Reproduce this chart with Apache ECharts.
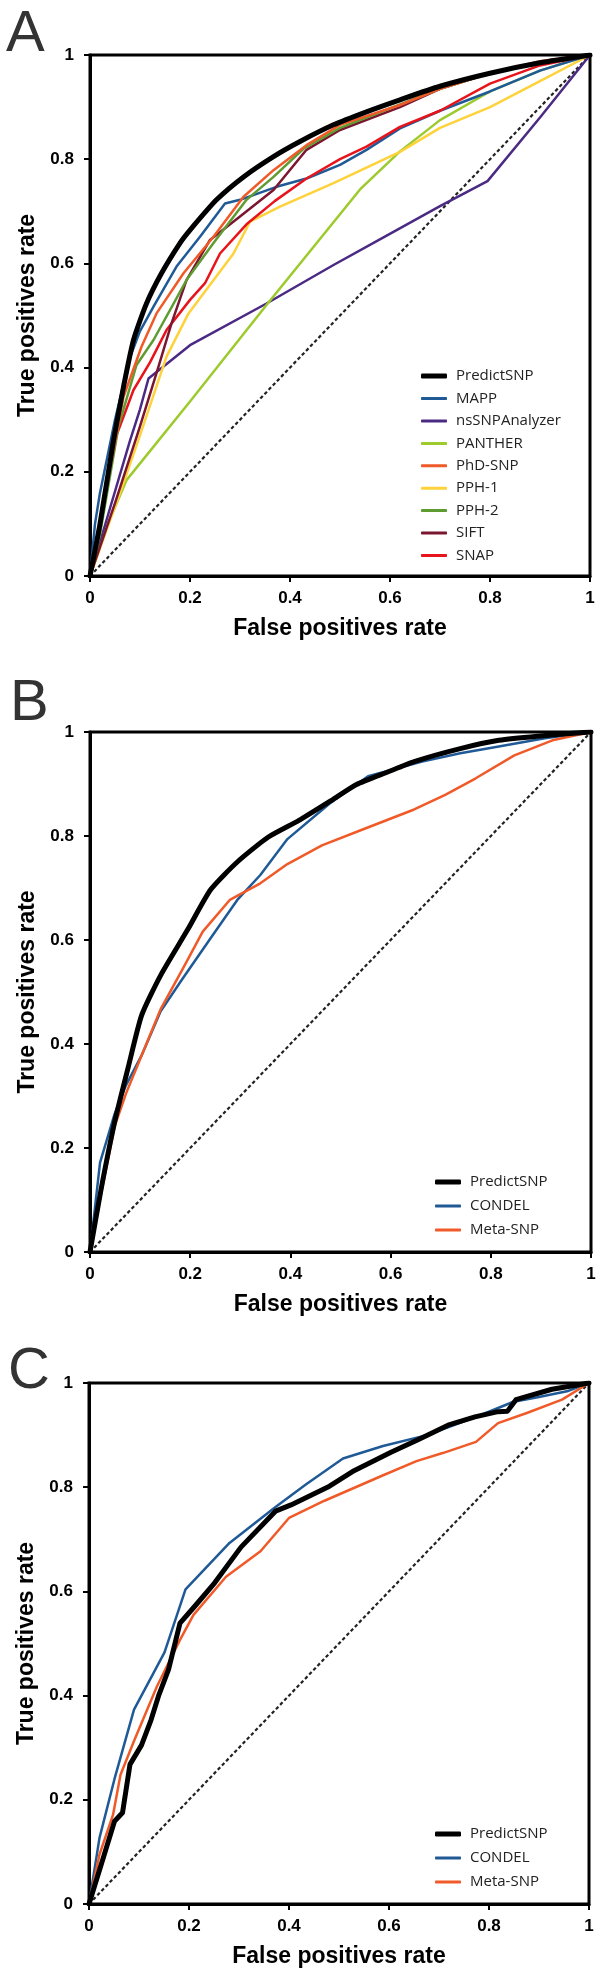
<!DOCTYPE html>
<html>
<head>
<meta charset="utf-8">
<script src="https://cdn.jsdelivr.net/npm/echarts@6/dist/echarts.min.js"></script>
<style>
html,body{margin:0;padding:0;background:#fff;}
#chart{width:601px;height:1976px;}
</style>
</head>
<body>
<div id="chart"></div>
<script>
// ---------- Data ----------
const xTicks = [0, 0.2, 0.4, 0.6, 0.8, 1];
const diagonal = [[0, 0], [1, 1]];

// Panel A
const A_PredictSNP = [[0,0],[0.02,0.1],[0.047,0.26],[0.067,0.363],[0.087,0.453],[0.113,0.523],[0.143,0.581],[0.18,0.639],[0.2,0.664],[0.253,0.722],[0.307,0.766],[0.367,0.805],[0.42,0.834],[0.487,0.866],[0.553,0.891],[0.62,0.914],[0.7,0.94],[0.8,0.965],[0.9,0.985],[1,1]];
const A_MAPP = [[0,0],[0.01,0.1],[0.02,0.16],[0.05,0.3],[0.08,0.42],[0.1,0.47],[0.127,0.517],[0.173,0.594],[0.22,0.651],[0.27,0.715],[0.3,0.722],[0.373,0.747],[0.433,0.763],[0.5,0.789],[0.553,0.818],[0.62,0.859],[0.7,0.893],[0.8,0.93],[0.9,0.97],[1,1]];
const A_nsSNPAnalyzer = [[0,0],[0.04,0.13],[0.08,0.26],[0.1,0.32],[0.117,0.379],[0.2,0.443],[0.353,0.523],[0.487,0.597],[0.587,0.65],[0.7,0.71],[0.795,0.758],[0.9,0.88],[1,1]];
const A_PANTHER = [[0,0],[0.04,0.11],[0.073,0.184],[0.2,0.335],[0.353,0.52],[0.54,0.742],[0.62,0.815],[0.7,0.875],[0.8,0.93],[0.9,0.97],[1,1]];
const A_PhDSNP = [[0,0],[0.02,0.1],[0.045,0.23],[0.067,0.344],[0.103,0.44],[0.133,0.504],[0.187,0.581],[0.247,0.651],[0.307,0.728],[0.367,0.779],[0.433,0.827],[0.5,0.866],[0.62,0.904],[0.7,0.935],[0.8,0.965],[0.9,0.988],[1,1]];
const A_PPH1 = [[0,0],[0.03,0.08],[0.06,0.159],[0.1,0.27],[0.153,0.421],[0.197,0.504],[0.287,0.619],[0.32,0.68],[0.38,0.709],[0.487,0.754],[0.62,0.814],[0.7,0.86],[0.8,0.9],[0.9,0.95],[1,1]];
const A_PPH2 = [[0,0],[0.02,0.08],[0.057,0.287],[0.093,0.405],[0.127,0.453],[0.193,0.568],[0.247,0.639],[0.313,0.722],[0.367,0.766],[0.427,0.82],[0.5,0.86],[0.62,0.905],[0.7,0.935],[0.8,0.965],[0.9,0.985],[1,1]];
const A_SIFT = [[0,0],[0.05,0.14],[0.1,0.287],[0.137,0.402],[0.163,0.485],[0.193,0.568],[0.24,0.645],[0.3,0.69],[0.367,0.741],[0.433,0.818],[0.5,0.856],[0.62,0.9],[0.7,0.935],[0.8,0.965],[0.9,0.985],[1,1]];
const A_SNAP = [[0,0],[0.03,0.15],[0.053,0.27],[0.087,0.357],[0.12,0.41],[0.153,0.472],[0.2,0.53],[0.23,0.562],[0.26,0.619],[0.313,0.675],[0.37,0.72],[0.433,0.763],[0.5,0.8],[0.553,0.824],[0.62,0.862],[0.7,0.893],[0.8,0.945],[0.9,0.98],[1,1]];

// Panel B
const B_PredictSNP = [[0,0],[0.022,0.12],[0.049,0.249],[0.076,0.354],[0.103,0.455],[0.141,0.532],[0.195,0.62],[0.241,0.697],[0.294,0.75],[0.356,0.798],[0.417,0.83],[0.486,0.871],[0.532,0.899],[0.594,0.923],[0.647,0.943],[0.739,0.968],[0.816,0.984],[0.893,0.992],[1,1]];
const B_CONDEL = [[0,0],[0.02,0.172],[0.049,0.265],[0.072,0.321],[0.103,0.378],[0.141,0.463],[0.183,0.523],[0.241,0.604],[0.294,0.677],[0.34,0.725],[0.394,0.794],[0.479,0.863],[0.555,0.915],[0.663,0.943],[0.739,0.959],[0.816,0.972],[0.908,0.988],[1,1]];
const B_MetaSNP = [[0,0],[0.022,0.111],[0.049,0.241],[0.072,0.305],[0.103,0.378],[0.141,0.467],[0.187,0.548],[0.225,0.616],[0.279,0.677],[0.34,0.709],[0.394,0.746],[0.463,0.782],[0.548,0.814],[0.647,0.851],[0.709,0.879],[0.77,0.911],[0.847,0.955],[0.923,0.984],[1,1]];

// Panel C
const C_PredictSNP = [[0,0],[0.028,0.087],[0.051,0.159],[0.067,0.175],[0.082,0.268],[0.105,0.305],[0.124,0.353],[0.14,0.402],[0.159,0.45],[0.182,0.539],[0.212,0.572],[0.251,0.616],[0.304,0.685],[0.373,0.754],[0.404,0.766],[0.481,0.802],[0.527,0.83],[0.604,0.867],[0.658,0.891],[0.718,0.919],[0.772,0.935],[0.818,0.945],[0.837,0.946],[0.854,0.968],[0.926,0.988],[1,1]];
const C_CONDEL = [[0,0],[0.021,0.127],[0.051,0.24],[0.09,0.373],[0.151,0.483],[0.193,0.604],[0.281,0.693],[0.373,0.762],[0.435,0.806],[0.508,0.855],[0.588,0.879],[0.672,0.899],[0.718,0.915],[0.785,0.939],[0.849,0.964],[0.895,0.972],[0.956,0.984],[1,1]];
const C_MetaSNP = [[0,0],[0.021,0.095],[0.048,0.171],[0.063,0.248],[0.09,0.313],[0.136,0.418],[0.182,0.507],[0.209,0.555],[0.274,0.628],[0.343,0.677],[0.4,0.741],[0.471,0.774],[0.586,0.822],[0.655,0.85],[0.709,0.866],[0.774,0.887],[0.818,0.923],[0.877,0.943],[0.946,0.968],[1,1]];

const legendA = ['PredictSNP','MAPP','nsSNPAnalyzer','PANTHER','PhD-SNP','PPH-1','PPH-2','SIFT','SNAP'];
const legendBC = ['PredictSNP','CONDEL','Meta-SNP'];
const panelLetters = ['A','B','C'];

// ---------- Styles ----------
const colors = {
  'PredictSNP':'#000000','MAPP':'#1f5a96','nsSNPAnalyzer':'#4b2a84','PANTHER':'#9dca2c',
  'PhD-SNP':'#f05a28','PPH-1':'#fdd23a','PPH-2':'#5e9c32','SIFT':'#7a1630','SNAP':'#e8141c',
  'CONDEL':'#1f5a96','Meta-SNP':'#f05a28'
};
const grids = [
  {left:90, top:55, width:500, height:521},
  {left:90, top:732, width:501, height:520},
  {left:89, top:1383, width:500, height:521}
];

function ser(name, data, gi, width, smooth){
  return {name:name, type:'line', xAxisIndex:gi, yAxisIndex:gi, data:data, symbol:'none',
    smooth: smooth||false, animation:false,
    lineStyle:{color:colors[name], width:width, cap:'round', join:'round'},
    itemStyle:{color:colors[name]}};
}
function diag(gi){
  return {name:'diag'+gi, type:'line', xAxisIndex:gi, yAxisIndex:gi, data:diagonal, symbol:'none',
    animation:false, silent:true,
    lineStyle:{color:'#222', width:2.2, type:[3.5,2.5]}};
}

const tickFont = {fontFamily:'Liberation Sans', fontWeight:'bold', fontSize:17, color:'#000'};
const titleFont = {fontFamily:'Liberation Sans', fontWeight:'bold', fontSize:23, color:'#000'};

const xAxes = [], yAxes = [];
for (let i=0;i<3;i++){
  xAxes.push({type:'value', gridIndex:i, min:0, max:1, interval:0.2,
    axisLine:{show:true, onZero:false, lineStyle:{color:'#000', width:3}},
    axisTick:{show:true, length:6, lineStyle:{color:'#000', width:2}},
    splitLine:{show:false},
    axisLabel:{...tickFont, margin:14, formatter:v=>String(+v.toFixed(1))},
    name:'False positives rate', nameLocation:'middle', nameGap:41, nameTextStyle:titleFont});
  yAxes.push({type:'value', gridIndex:i, min:0, max:1, interval:0.2,
    axisLine:{show:true, onZero:false, lineStyle:{color:'#000', width:3}},
    axisTick:{show:true, length:6, lineStyle:{color:'#000', width:2}},
    splitLine:{show:false},
    axisLabel:{...tickFont, margin:16, formatter:v=>String(+v.toFixed(1))},
    name:'True positives rate', nameLocation:'middle', nameRotate:90, nameGap:44, nameTextStyle:titleFont});
}

const series = [
  diag(0),
  ser('nsSNPAnalyzer', A_nsSNPAnalyzer, 0, 2.5),
  ser('PANTHER', A_PANTHER, 0, 2.5),
  ser('PPH-1', A_PPH1, 0, 2.5),
  ser('MAPP', A_MAPP, 0, 2.5),
  ser('SNAP', A_SNAP, 0, 2.5),
  ser('SIFT', A_SIFT, 0, 2.5),
  ser('PPH-2', A_PPH2, 0, 2.5),
  ser('PhD-SNP', A_PhDSNP, 0, 2.5),
  ser('PredictSNP', A_PredictSNP, 0, 5, 0.2),
  diag(1),
  ser('CONDEL', B_CONDEL, 1, 2.5),
  ser('Meta-SNP', B_MetaSNP, 1, 2.5),
  ser('PredictSNP', B_PredictSNP, 1, 5, 0.2),
  diag(2),
  ser('CONDEL', C_CONDEL, 2, 2.5),
  ser('Meta-SNP', C_MetaSNP, 2, 2.5),
  ser('PredictSNP', C_PredictSNP, 2, 5)
];

const legText = {fontFamily:'Open Sans', fontSize:15, color:'#222', lineHeight:22, padding:[0,0,0,4]};
function leg(names, left, top, h, gap){
  return {show:true, orient:'vertical', left:left, top:top, padding:0, itemGap:gap,
    itemWidth:26, itemHeight:h, icon:'roundRect', selectedMode:false,
    data:names, textStyle:{...legText}};
}

const legends = [
  leg(['PredictSNP'], 421, 365, 5, 0),
  leg(legendA.slice(1), 421, 387.6, 3, 0.4),
  leg(['PredictSNP'], 435, 1171, 5, 0),
  leg(legendBC.slice(1), 435, 1195, 3, 2),
  leg(['PredictSNP'], 435, 1823, 5, 0),
  leg(legendBC.slice(1), 435, 1847, 3, 2)
];

const letterPos = [[6,48],[10,717],[8,1385]];
const graphics = panelLetters.map((t,i)=>({type:'text', left:letterPos[i][0], top:letterPos[i][1]-42,
  style:{text:t, fontFamily:'Liberation Sans', fontSize:58, fill:'#333', textVerticalAlign:'top'}}));

const chart = echarts.init(document.getElementById('chart'), null, {renderer:'canvas'});
chart.setOption({
  animation:false,
  backgroundColor:'#fff',
  grid: grids.map(g=>({...g, show:true, borderColor:'#000', borderWidth:3, containLabel:false})),
  xAxis:xAxes, yAxis:yAxes,
  legend:legends,
  graphic:graphics,
  series:series
});
</script>
</body>
</html>
